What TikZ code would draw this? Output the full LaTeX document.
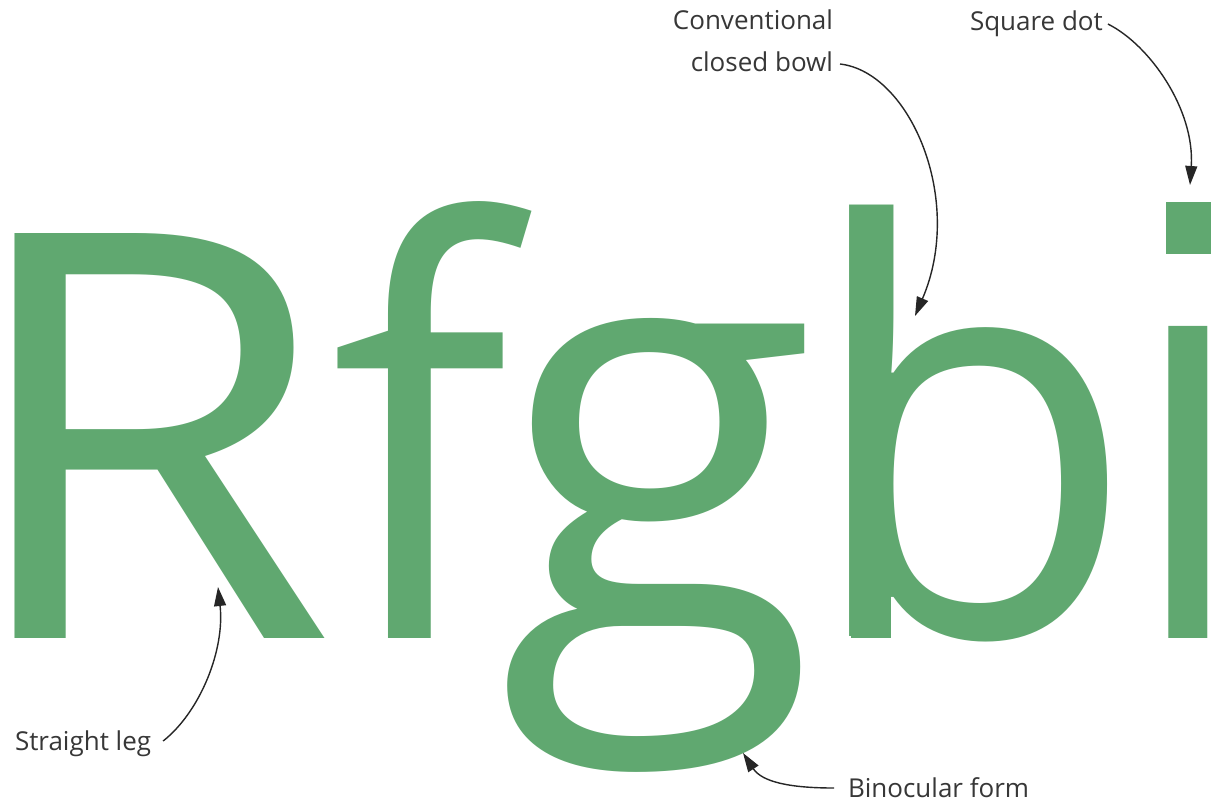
\documentclass[tikz,border=0pt]{standalone}
\usepackage{fontspec}
\usepackage{graphicx}
\setmainfont{Open Sans}
\newfontfamily\bigfont{Open Sans}
\usetikzlibrary{arrows.meta}
\definecolor{lettergreen}{RGB}{96,168,112}
\definecolor{labelgray}{RGB}{55,55,55}
% measure the ink of one glyph (outside the picture, where a real font is active)
\newcommand\glyphmetrics[1]{%
  \begingroup
  \bigfont\fontsize{500pt}{500pt}\selectfont
  \setbox0=\hbox{#1}%
  \count255=\XeTeXcharglyph`#1\relax
  \dimen0=\XeTeXglyphbounds1 \count255
  \dimen2=\XeTeXglyphbounds3 \count255
  \expandafter\xdef\csname gmwd#1\endcsname{\the\wd0}%
  \expandafter\xdef\csname gmlsb#1\endcsname{\the\dimen0}%
  \expandafter\xdef\csname gmrsb#1\endcsname{\the\dimen2}%
  \expandafter\xdef\csname gmht#1\endcsname{\the\ht0}%
  \expandafter\xdef\csname gmdp#1\endcsname{\the\dp0}%
  \endgroup
}
% #1 name, #2 character, #3 left, #4 top, #5 right, #6 bottom of the ink (px, y down)
\newcommand\fitglyph[6]{%
  \pgfmathsetmacro\gwd{\csname gmwd#2\endcsname}%
  \pgfmathsetmacro\glsb{\csname gmlsb#2\endcsname}%
  \pgfmathsetmacro\grsb{\csname gmrsb#2\endcsname}%
  \pgfmathsetmacro\ght{\csname gmht#2\endcsname}%
  \pgfmathsetmacro\gdp{\csname gmdp#2\endcsname}%
  \pgfmathsetmacro\gwA{\gwd-\glsb-\grsb}%
  \pgfmathsetmacro\gw{(\gwA>0.3*\gwd) ? (\gwA) : (\grsb-\glsb)}%
  \pgfmathsetmacro\gsx{(#5-#3)/\gw}%
  \pgfmathsetmacro\gsy{(#6-#4)/(\ght+\gdp)}%
  \pgfmathsetmacro\gbx{#3-\gsx*(\glsb)}%
  \pgfmathsetmacro\gby{#4+\gsy*(\ght)}%
  \node[glyph] (#1) at (\gbx,\gby) {\scalebox{\gsx}[\gsy]{\bigfont\fontsize{500pt}{500pt}\selectfont #2}};%
}
\tikzset{
  glyph/.style={anchor=base west, inner sep=0pt, outer sep=0pt, text=lettergreen},
  lbl/.style={inner sep=0pt, outer sep=0pt, text=labelgray, font=\fontsize{26}{42}\selectfont},
  pointer/.style={draw=black!85, line width=1.4pt, -{Triangle[length=19pt,width=12pt]}}
}
\begin{document}
\glyphmetrics{R}\glyphmetrics{f}\glyphmetrics{g}\glyphmetrics{b}\glyphmetrics{i}%
\begin{tikzpicture}[x=1pt,y=-1pt]
\useasboundingbox (0,0) rectangle (1225,804);
\fill[white] (0,0) rectangle (1225,804);
% the specimen letters
\fitglyph{R}{R}{15}{233}{325}{638}
\fitglyph{f}{f}{338}{201}{532}{638}
\fitglyph{g}{g}{508}{318}{805}{772}
\fitglyph{b}{b}{850}{205}{1108}{642}
\fitglyph{i}{i}{1166}{210}{1212}{638}
% plain stem foot of the b (no spur)
\fill[lettergreen] (850.5,585) rectangle (891,637.5);
% square dot of the i
\fill[white] (1150,192) rectangle (1224,302);
\fill[lettergreen] (1166,202) rectangle (1211,254);
% labels
\node[lbl, anchor=south east, align=right] (conv) at (833,72) {Conventional\\closed bowl};
\node[lbl, anchor=base west] (square) at (970,30) {Square dot};
\node[lbl, anchor=base west] (straight) at (15,750) {Straight leg};
\node[lbl, anchor=base west] (binoc) at (848,797) {Binocular form};
% arrow tips
\coordinate (tbowl) at (915,316);
\coordinate (tdot) at (1190,185);
\coordinate (tleg) at (218,587);
\coordinate (tbino) at (743,753);
% connectors
\draw[pointer] ([xshift=7pt,yshift=8pt]conv.south east) .. controls (910,72) and (965,200) .. (tbowl);
\draw[pointer] ([xshift=5pt,yshift=6pt]square.base east) .. controls (1150,45) and (1195,110) .. (tdot);
\draw[pointer] ([xshift=12pt,yshift=9pt]straight.base east) .. controls (200,712) and (225,650) .. (tleg);
\draw[pointer] ([xshift=-14pt,yshift=9pt]binoc.base west) .. controls (790,788) and (762,782) .. (tbino);
\end{tikzpicture}
\end{document}
